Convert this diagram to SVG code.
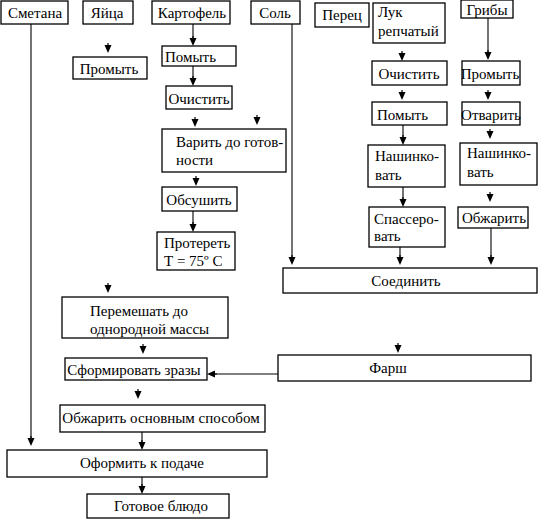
<svg xmlns="http://www.w3.org/2000/svg" xmlns:xlink="http://www.w3.org/1999/xlink" width="538" height="520" viewBox="0 0 538 520">
<style>
rect.b{fill:#fff;stroke:#000;stroke-width:1.3}
text{font-family:'Liberation Serif','Times New Roman',serif;font-size:15px;fill:#000}
.m{text-anchor:middle}
.c line{stroke:#000;stroke-width:1.1;fill:none}
</style>
<defs>
<path id="ah" d="M-3.5,-8 L3.5,-8 L0,0 Z M-0.6,-10 L0.6,-10 L0.6,-8 L-0.6,-8 Z" fill="#000"/>
</defs>
<rect width="538" height="520" fill="#fff"/>

<g id="connectors" class="c">
<line x1="31" y1="24" x2="31" y2="438"/>
<line x1="193" y1="24" x2="193" y2="38"/>
<line x1="193" y1="66" x2="193" y2="78"/>
<line x1="193" y1="211" x2="193" y2="224"/>
<line x1="292" y1="24" x2="292" y2="257"/>
<line x1="488" y1="18" x2="488" y2="52"/>
<line x1="403" y1="125" x2="403" y2="137"/>
<line x1="403" y1="187" x2="403" y2="199"/>
<line x1="400" y1="247" x2="400" y2="257"/>
<line x1="491" y1="228" x2="491" y2="257"/>
<line x1="278" y1="374" x2="215" y2="374"/>
<line x1="142" y1="432" x2="142" y2="442"/>
<line x1="142" y1="477" x2="142" y2="486"/>
<use xlink:href="#ah" x="31" y="446"/>
<use xlink:href="#ah" x="193" y="46"/>
<use xlink:href="#ah" x="193" y="86"/>
<use xlink:href="#ah" x="193" y="232"/>
<use xlink:href="#ah" x="292" y="265"/>
<use xlink:href="#ah" x="488" y="60"/>
<use xlink:href="#ah" x="403" y="145"/>
<use xlink:href="#ah" x="403" y="207"/>
<use xlink:href="#ah" x="400" y="265"/>
<use xlink:href="#ah" x="491" y="265"/>
<use xlink:href="#ah" transform="translate(207 374) rotate(90)"/>
<use xlink:href="#ah" x="142" y="450"/>
<use xlink:href="#ah" x="142" y="494"/>
<use xlink:href="#ah" x="108" y="53"/>
<use xlink:href="#ah" x="195" y="127"/>
<use xlink:href="#ah" x="257" y="125"/>
<use xlink:href="#ah" x="196" y="186"/>
<use xlink:href="#ah" x="402" y="61"/>
<use xlink:href="#ah" x="402" y="100"/>
<use xlink:href="#ah" x="488" y="100"/>
<use xlink:href="#ah" x="490" y="139"/>
<use xlink:href="#ah" x="490" y="202"/>
<use xlink:href="#ah" x="108" y="293"/>
<use xlink:href="#ah" x="143" y="354"/>
<use xlink:href="#ah" x="398" y="353"/>
<use xlink:href="#ah" x="138" y="399"/>
</g>

<g id="smetana"><rect class="b" x="1" y="1" width="67" height="23"/><text class="m" x="35" y="18">Сметана</text></g>
<g id="yaitsa"><rect class="b" x="83" y="1" width="50" height="23"/><text class="m" x="107" y="18">Яйца</text></g>
<g id="kartofel"><rect class="b" x="152" y="1" width="78" height="23"/><text class="m" x="192" y="18">Картофель</text></g>
<g id="sol"><rect class="b" x="251" y="1" width="49" height="23"/><text class="m" x="275" y="18">Соль</text></g>
<g id="perets"><rect class="b" x="315" y="3" width="54" height="24"/><text class="m" x="342" y="20">Перец</text></g>
<g id="luk"><rect class="b" x="373" y="3" width="72" height="40"/><text x="378" y="17">Лук</text><text x="378" y="36">репчатый</text></g>
<g id="griby"><rect class="b" x="461" y="0" width="52" height="18"/><text class="m" x="487" y="15">Грибы</text></g>

<g id="yaitsa-promyt"><rect class="b" x="73" y="57" width="74" height="22"/><text class="m" x="109" y="74">Промыть</text></g>
<g id="kart-pomyt"><rect class="b" x="162" y="46" width="74" height="20"/><text x="165" y="62">Помыть</text></g>
<g id="kart-ochistit"><rect class="b" x="166" y="86" width="66" height="23"/><text class="m" x="199" y="104">Очистить</text></g>
<g id="varit"><rect class="b" x="162" y="129" width="124" height="43"/><text x="176" y="147">Варить до готов-</text><text x="176" y="165">ности</text></g>
<g id="obsushit"><rect class="b" x="162" y="187" width="75" height="24"/><text class="m" x="199" y="205">Обсушить</text></g>
<g id="proteret"><rect class="b" x="157" y="232" width="78" height="38"/><text x="164" y="248">Протереть</text><text x="164" y="266">Т = 75º С</text></g>

<g id="luk-ochistit"><rect class="b" x="372" y="61" width="75" height="24"/><text class="m" x="409" y="79">Очистить</text></g>
<g id="luk-pomyt"><rect class="b" x="372" y="102" width="75" height="23"/><text x="377" y="120">Помыть</text></g>
<g id="luk-nashinkovat"><rect class="b" x="368" y="145" width="77" height="42"/><text x="375" y="161">Нашинко-</text><text x="375" y="180">вать</text></g>
<g id="luk-spasserovat"><rect class="b" x="369" y="207" width="76" height="40"/><text x="374" y="224">Спассеро-</text><text x="374" y="241">вать</text></g>

<g id="griby-promyt"><rect class="b" x="462" y="61" width="58" height="24"/><text class="m" x="490" y="79">Промыть</text></g>
<g id="griby-otvarit"><rect class="b" x="462" y="102" width="58" height="23"/><text class="m" x="491" y="120">Отварить</text></g>
<g id="griby-nashinkovat"><rect class="b" x="460" y="143" width="77" height="42"/><text x="467" y="158">Нашинко-</text><text x="467" y="177">вать</text></g>
<g id="griby-obzharit"><rect class="b" x="458" y="207" width="70" height="21"/><text class="m" x="494" y="223">Обжарить</text></g>

<g id="soedinit"><rect class="b" x="283" y="268" width="254" height="25"/><text class="m" x="406" y="286">Соединить</text></g>
<g id="peremeshat"><rect class="b" x="62" y="297" width="166" height="41"/><text x="90" y="316">Перемешать до</text><text x="90" y="334">однородной массы</text></g>
<g id="sformirovat"><rect class="b" x="65" y="358" width="142" height="22"/><text class="m" x="134" y="375">Сформировать зразы</text></g>
<g id="farsh"><rect class="b" x="278" y="355" width="253" height="26"/><text class="m" x="388" y="373">Фарш</text></g>
<g id="obzharit-osn"><rect class="b" x="60" y="405" width="205" height="27"/><text class="m" x="161" y="423">Обжарить основным способом</text></g>
<g id="oformit"><rect class="b" x="7" y="450" width="260" height="27"/><text class="m" x="142" y="468">Оформить к подаче</text></g>
<g id="gotovoe"><rect class="b" x="87" y="494" width="142" height="24"/><text class="m" x="161" y="511">Готовое блюдо</text></g>
</svg>
